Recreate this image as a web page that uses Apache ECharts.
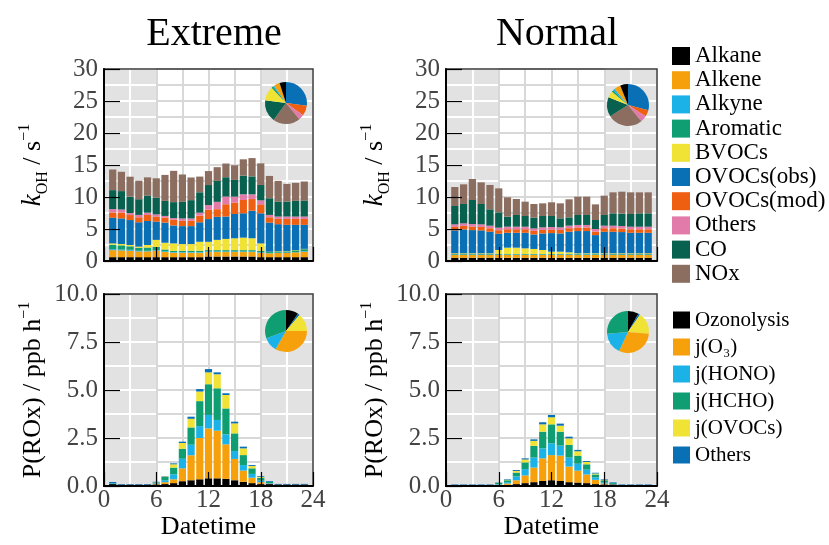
<!DOCTYPE html>
<html><head><meta charset="utf-8">
<script src="https://cdn.jsdelivr.net/npm/echarts@6/dist/echarts.min.js"></script>
<style>html,body{margin:0;padding:0;background:#fff}#c{width:829px;height:545px}</style>
</head><body><div id="c"></div>
<script>
const FONT = '"Liberation Serif","Times New Roman",serif';

// ---------- data ----------
const hourCats = ['0','1','2','3','4','5','6','7','8','9','10','11','12','13','14','15','16','17','18','19','20','21','22','23','24'];
const hours = [1,2,3,4,5,6,7,8,9,10,11,12,13,14,15,16,17,18,19,20,21,22,23];
const xTicks = [0,6,12,18,24];

const vocNames = ['Alkane','Alkene','Alkyne','Aromatic','BVOCs','OVOCs(obs)','OVOCs(mod)','Others','CO','NOx'];
const roxNames = ['Ozonolysis','j(O\u2083)','j(HONO)','j(HCHO)','j(OVOCs)','OthersROx'];

// kOH, Extreme
const alkaneExt   = [0.6,0.6,0.6,0.6,0.6,0.6,0.6,0.6,0.6,0.6,0.6,0.7,0.7,0.7,0.7,0.7,0.7,0.6,0.6,0.6,0.6,0.6,0.6];
const alkeneExt   = [1.1,1.05,1.0,0.9,0.9,1.0,0.8,0.7,0.7,0.7,0.7,0.7,0.7,0.7,0.7,0.7,0.7,0.7,0.6,0.65,0.65,0.75,0.85];
const alkyneExt   = [0.15,0.15,0.15,0.1,0.1,0.1,0.1,0.1,0.1,0.1,0.1,0.1,0.1,0.1,0.1,0.1,0.1,0.1,0.05,0.05,0.05,0.05,0.1];
const aromaticExt = [0.7,0.65,0.55,0.45,0.5,0.5,0.3,0.2,0.2,0.2,0.2,0.2,0.2,0.2,0.2,0.2,0.2,0.2,0.15,0.2,0.2,0.25,0.3];
const bvocExt     = [0.2,0.2,0.2,0.2,0.4,1.1,1.05,1.15,1.05,1.05,1.4,1.3,1.6,1.75,1.85,1.95,1.85,1.15,0.05,0.05,0.05,0.05,0.05];
const ovocObsExt  = [4.0,4.0,3.9,3.8,3.75,2.85,3.15,2.8,2.8,2.8,3.05,3.55,3.6,3.5,3.8,3.8,4.3,4.7,4.55,4.2,4.1,3.95,3.75];
const ovocModExt  = [0.83,0.93,0.78,0.78,0.94,0.78,0.78,0.89,0.83,0.83,1.04,1.46,1.2,1.92,1.77,2.08,1.83,1.4,0.83,0.83,0.93,0.93,0.93];
const othersExt   = [0.53,0.47,0.31,0.37,0.36,0.36,0.26,0.26,0.37,0.37,0.47,0.73,1.14,1.2,0.94,0.89,0.73,0.63,0.37,0.37,0.37,0.37,0.37];
const coExt       = [2.96,2.87,2.55,2.45,2.66,2.61,2.35,2.5,2.6,2.86,3.18,3.13,3.28,3.02,2.61,2.91,2.81,2.4,2.6,2.34,2.34,2.45,2.5];
const noxExt      = [3.23,3.02,3.13,2.91,2.86,3.02,4.06,4.89,4.27,3.54,2.45,2.18,2.14,2.14,2.29,2.56,2.86,3.38,3.49,3.23,2.76,2.81,2.97];

// kOH, Normal
const alkaneNor   = [0.5,0.5,0.5,0.5,0.5,0.5,0.5,0.5,0.5,0.5,0.5,0.5,0.5,0.5,0.5,0.5,0.5,0.5,0.5,0.5,0.5,0.5,0.5];
const alkeneNor   = [0.45,0.45,0.45,0.45,0.45,0.45,0.45,0.45,0.45,0.45,0.45,0.45,0.45,0.45,0.45,0.45,0.45,0.45,0.45,0.45,0.45,0.45,0.45];
const alkyneNor   = [0.05,0.05,0.05,0.05,0.05,0.05,0.05,0.05,0.05,0.05,0.05,0.05,0.05,0.05,0.05,0.05,0.05,0.05,0.05,0.05,0.05,0.05,0.05];
const aromaticNor = [0.1,0.1,0.1,0.1,0.1,0.1,0.1,0.1,0.1,0.1,0.1,0.1,0.1,0.1,0.1,0.1,0.1,0.1,0.1,0.1,0.1,0.1,0.1];
const bvocNor     = [0.1,0.1,0.1,0.1,0.1,0.62,0.98,0.98,0.88,0.78,0.62,0.36,0.36,0.25,0.1,0.1,0.1,0.1,0.1,0.1,0.1,0.1,0.1];
const ovocObsNor  = [3.58,3.74,3.63,3.58,3.37,2.54,2.33,2.33,2.43,2.27,2.59,2.9,2.85,3.22,3.48,3.48,2.85,3.37,3.37,3.32,3.21,3.21,3.21];
const ovocModNor  = [0.55,0.55,0.55,0.55,0.55,0.55,0.55,0.55,0.55,0.55,0.55,0.55,0.55,0.55,0.55,0.55,0.55,0.55,0.55,0.55,0.55,0.55,0.55];
const othersNor   = [0.4,0.4,0.4,0.4,0.4,0.4,0.4,0.4,0.4,0.4,0.4,0.4,0.4,0.4,0.4,0.4,0.4,0.4,0.4,0.4,0.4,0.4,0.4];
const coNor       = [2.86,3.02,3.75,3.18,2.55,2.39,1.57,1.83,1.67,1.67,1.77,1.72,1.41,1.3,1.56,1.56,1.41,1.67,1.93,1.93,1.98,2.09,2.09];
const noxNor      = [2.97,3.07,3.28,3.38,3.81,3.75,3.02,2.5,2.24,2.14,1.98,2.14,2.34,2.82,2.86,2.86,2.44,3.02,3.28,3.43,3.39,3.28,3.28];

// P(ROx), Extreme
const ozoExt    = [0.1,0.07,0.07,0.07,0.07,0.08,0.1,0.15,0.25,0.3,0.35,0.4,0.4,0.37,0.3,0.22,0.15,0.1,0.1,0.08,0.08,0.08,0.08];
const jo3Ext    = [0,0,0,0,0,0.04,0.1,0.2,0.67,1.3,2.15,2.6,2.48,1.8,1.11,0.58,0.28,0.1,0.02,0,0,0,0];
const jhonoExt  = [0.03,0,0,0,0,0.03,0.1,0.26,0.5,0.55,0.62,0.7,0.56,0.52,0.41,0.29,0.2,0.08,0.03,0,0,0,0];
const jhchoExt  = [0.02,0,0,0,0,0.04,0.17,0.35,0.52,0.9,1.3,1.6,1.65,1.35,0.92,0.52,0.29,0.15,0.06,0,0,0,0];
const jovocExt  = [0,0,0,0,0,0.01,0.03,0.17,0.3,0.45,0.5,0.62,0.73,0.7,0.52,0.35,0.12,0.05,0.01,0,0,0,0];
const othRoxExt = [0.06,0.03,0.03,0.03,0.03,0.02,0.02,0.05,0.07,0.11,0.13,0.17,0.1,0.09,0.09,0.09,0.05,0.04,0.04,0.03,0.03,0.03,0.03];

// P(ROx), Normal
const ozoNor    = [0.05,0.05,0.05,0.05,0.05,0.05,0.06,0.1,0.15,0.2,0.26,0.3,0.26,0.2,0.18,0.15,0.1,0.08,0.08,0.05,0.05,0.05,0.05];
const jo3Nor    = [0,0,0,0,0,0.02,0.07,0.2,0.4,0.76,1.18,1.31,1.32,0.81,0.62,0.45,0.22,0.05,0.01,0,0,0,0];
const jhonoNor  = [0,0,0,0,0,0.03,0.07,0.2,0.33,0.52,0.52,0.61,0.52,0.47,0.36,0.25,0.13,0.05,0.02,0,0,0,0];
const jhchoNor  = [0,0,0,0,0,0.06,0.1,0.2,0.35,0.61,0.87,0.99,0.73,0.66,0.42,0.28,0.15,0.12,0.05,0,0,0,0];
const jovocNor  = [0,0,0,0,0,0.01,0.02,0.08,0.15,0.26,0.38,0.37,0.31,0.34,0.23,0.12,0.05,0.02,0,0,0,0,0];
const othRoxNor = [0.03,0.03,0.03,0.03,0.03,0.02,0.03,0.05,0.06,0.08,0.11,0.12,0.11,0.09,0.07,0.05,0.04,0.03,0.03,0.03,0.03,0.03,0.03];

// pie insets (percent, clockwise from 12 o'clock)
const pieVocOrder = ['OVOCs(obs)','OVOCs(mod)','Others','NOx','CO','BVOCs','Aromatic','Alkyne','Alkene','Alkane'];
const pieVocExt   = [27,8,4,21,17,11,1.5,1,4.5,5];
const pieVocNor   = [29,5,5,27,15,5,1.5,1.5,5,6];
const pieRoxOrder = ['Ozonolysis','OthersROx','j(OVOCs)','j(O\u2083)','j(HONO)','j(HCHO)'];
const pieRoxExt   = [9.7,1.4,13.9,33.3,11.1,30.6];
const pieRoxNor   = [8.3,1.4,16.7,30.6,16.7,26.4];

// ---------- styles ----------
const colorOf = {
  'Alkane':'#000000','Alkene':'#F6A10C','Alkyne':'#1BB2E8','Aromatic':'#0F9E72','BVOCs':'#F1E236',
  'OVOCs(obs)':'#0A70B6','OVOCs(mod)':'#EE5F12','Others':'#E27BAA','CO':'#08614F','NOx':'#8B6E60',
  'Ozonolysis':'#000000','j(O\u2083)':'#F6A10C','j(HONO)':'#1BB2E8','j(HCHO)':'#0F9E72','j(OVOCs)':'#F1E236','OthersROx':'#0A70B6'
};

const kName = '{k|k}{sub|OH}{t| / s}{sup|\u22121}';
const pName = '{t|P(ROx) / ppb h}{sup|\u22121}';
const nameRich = {
  k:{fontFamily:FONT, fontSize:27, fontStyle:'italic', lineHeight:38, color:'#000'},
  t:{fontFamily:FONT, fontSize:26, lineHeight:38, color:'#000'},
  sub:{fontFamily:FONT, fontSize:16, lineHeight:16, verticalAlign:'bottom', color:'#000', padding:[0,0,1,0]},
  sup:{fontFamily:FONT, fontSize:16, lineHeight:16, verticalAlign:'top', color:'#000', padding:[3,0,0,0]}
};

const panels = [
  {box:{left:104, top:69, width:209, height:192}, ymax:30, yStep:5, ySplit:2.5, xLabels:false, yName:kName, fmt:v=>String(v),
   stacks:[alkaneExt,alkeneExt,alkyneExt,aromaticExt,bvocExt,ovocObsExt,ovocModExt,othersExt,coExt,noxExt], names:vocNames,
   pieNames:pieVocOrder, pie:pieVocExt, pieCenter:[286,103]},
  {box:{left:446, top:69, width:211, height:192}, ymax:30, yStep:5, ySplit:2.5, xLabels:false, yName:kName, fmt:v=>String(v),
   stacks:[alkaneNor,alkeneNor,alkyneNor,aromaticNor,bvocNor,ovocObsNor,ovocModNor,othersNor,coNor,noxNor], names:vocNames,
   pieNames:pieVocOrder, pie:pieVocNor, pieCenter:[628,105]},
  {box:{left:104, top:294, width:209, height:192}, ymax:10, yStep:2.5, ySplit:1.25, xLabels:true, yName:pName, fmt:v=>v.toFixed(1),
   stacks:[ozoExt,jo3Ext,jhonoExt,jhchoExt,jovocExt,othRoxExt], names:roxNames,
   pieNames:pieRoxOrder, pie:pieRoxExt, pieCenter:[286,331]},
  {box:{left:446, top:294, width:211, height:192}, ymax:10, yStep:2.5, ySplit:1.25, xLabels:true, yName:pName, fmt:v=>v.toFixed(1),
   stacks:[ozoNor,jo3Nor,jhonoNor,jhchoNor,jovocNor,othRoxNor], names:roxNames,
   pieNames:pieRoxOrder, pie:pieRoxNor, pieCenter:[628,332]}
];

const grid = [], xAxis = [], yAxis = [], series = [];
function lineAxis(gi, min, max, interval, color, z){
  return {type:'value', gridIndex:gi, min, max, interval, z, show:true,
    axisLine:{show:false}, axisTick:{show:false}, axisLabel:{show:false},
    splitLine:{show:true, showMinLine:true, showMaxLine:true, lineStyle:{color, width:2, type:'solid', opacity:1}}};
}
panels.forEach((p, i) => {
  const b = p.box, g0 = grid.length;
  grid.push({left:b.left, top:b.top, width:b.width, height:b.height, show:true, backgroundColor:'#E2E2E2', borderWidth:0, z:0});
  grid.push({left:b.left + b.width*6/24, top:b.top, width:b.width*12/24, height:b.height, show:true, backgroundColor:'#FFFFFF', borderWidth:0, z:1});
  grid.push({left:b.left, top:b.top, width:b.width, height:b.height, show:true, backgroundColor:'rgba(0,0,0,0)', borderColor:'#3a3a3a', borderWidth:1.5, z:4});
  xAxis.push(lineAxis(g0, 0, 24, 3, '#FFFFFF', 0));
  yAxis.push(lineAxis(g0, 0, p.ymax, p.ySplit, '#FFFFFF', 0));
  xAxis.push(lineAxis(g0+1, 6, 18, 3, '#D8D8D8', 1));
  yAxis.push(lineAxis(g0+1, 0, p.ymax, p.ySplit, '#D8D8D8', 1));
  // visible value axis (ticks, labels)
  xAxis.push({type:'value', gridIndex:g0+2, position:'bottom', min:xTicks[0], max:xTicks[xTicks.length-1], interval:6, z:5,
    axisLine:{show:true, onZero:false, lineStyle:{color:'#000', width:2}},
    axisTick:{show:true, inside:true, length:14, lineStyle:{color:'#000', width:1.2}},
    axisLabel:{show:p.xLabels, fontFamily:FONT, fontSize:25, color:'#444', margin:2},
    splitLine:{show:false},
    name:p.xLabels ? 'Datetime' : '', nameLocation:'middle', nameGap:27,
    nameTextStyle:{fontFamily:FONT, fontSize:26, color:'#000'}});
  // hidden category axis carrying the hourly bars
  xAxis.push({type:'category', gridIndex:g0+2, position:'top', data:hourCats, boundaryGap:false, z:0,
    show:false, axisLine:{show:false}, axisTick:{show:false}, axisLabel:{show:false}, splitLine:{show:false}});
  const xCat = xAxis.length - 1;
  yAxis.push({type:'value', gridIndex:g0+2, min:0, max:p.ymax, interval:p.yStep, z:5,
    axisLine:{show:true, lineStyle:{color:'#000', width:2}},
    axisTick:{show:true, inside:true, length:16, lineStyle:{color:'#000', width:1.2}},
    axisLabel:{fontFamily:FONT, fontSize:25, color:'#444', margin:6, formatter:p.fmt},
    splitLine:{show:false},
    name:p.yName, nameLocation:'middle', nameRotate:90, nameGap:52,
    nameTextStyle:{rich:nameRich}});
  const yMain = yAxis.length - 1;
  p.stacks.forEach((arr, k) => {
    series.push({type:'bar', name:p.names[k], xAxisIndex:xCat, yAxisIndex:yMain,
      stack:'s'+i, barWidth:7.2, z:2, silent:true, animation:false,
      itemStyle:{color:colorOf[p.names[k]]},
      data:hours.map((h, j) => [String(h), arr[j]])});
  });
  series.push({type:'pie', center:p.pieCenter, radius:21, startAngle:90, clockwise:true, z:6,
    silent:true, animation:false, label:{show:false}, labelLine:{show:false},
    itemStyle:{borderWidth:0}, emphasis:{disabled:true},
    data:p.pieNames.map((n, j) => ({name:n, value:p.pie[j], itemStyle:{color:colorOf[n]}}))});
});

const legendText = n => n === 'OthersROx' ? 'Others' : n;
const option = {
  animation:false,
  title:[
    {text:'Extreme', left:209, top:9, textAlign:'center', textStyle:{fontFamily:FONT, fontSize:40, fontWeight:'normal', color:'#000'}},
    {text:'Normal', left:552, top:9, textAlign:'center', textStyle:{fontFamily:FONT, fontSize:40, fontWeight:'normal', color:'#000'}}
  ],
  legend:[
    {data:vocNames, orient:'vertical', left:667, top:39.5, itemWidth:18, itemHeight:18, itemGap:1.2, icon:'rect',
     selectedMode:false, textStyle:{fontFamily:FONT, fontSize:23, color:'#000'}},
    {data:roxNames, orient:'vertical', left:668, top:304.5, itemWidth:17, itemHeight:17, itemGap:6, icon:'rect',
     selectedMode:false, formatter:legendText, textStyle:{fontFamily:FONT, fontSize:21, color:'#000'}}
  ],
  grid, xAxis, yAxis, series
};
const chart = echarts.init(document.getElementById('c'), null, {renderer:'canvas'});
chart.setOption(option);
</script>
</body></html>
